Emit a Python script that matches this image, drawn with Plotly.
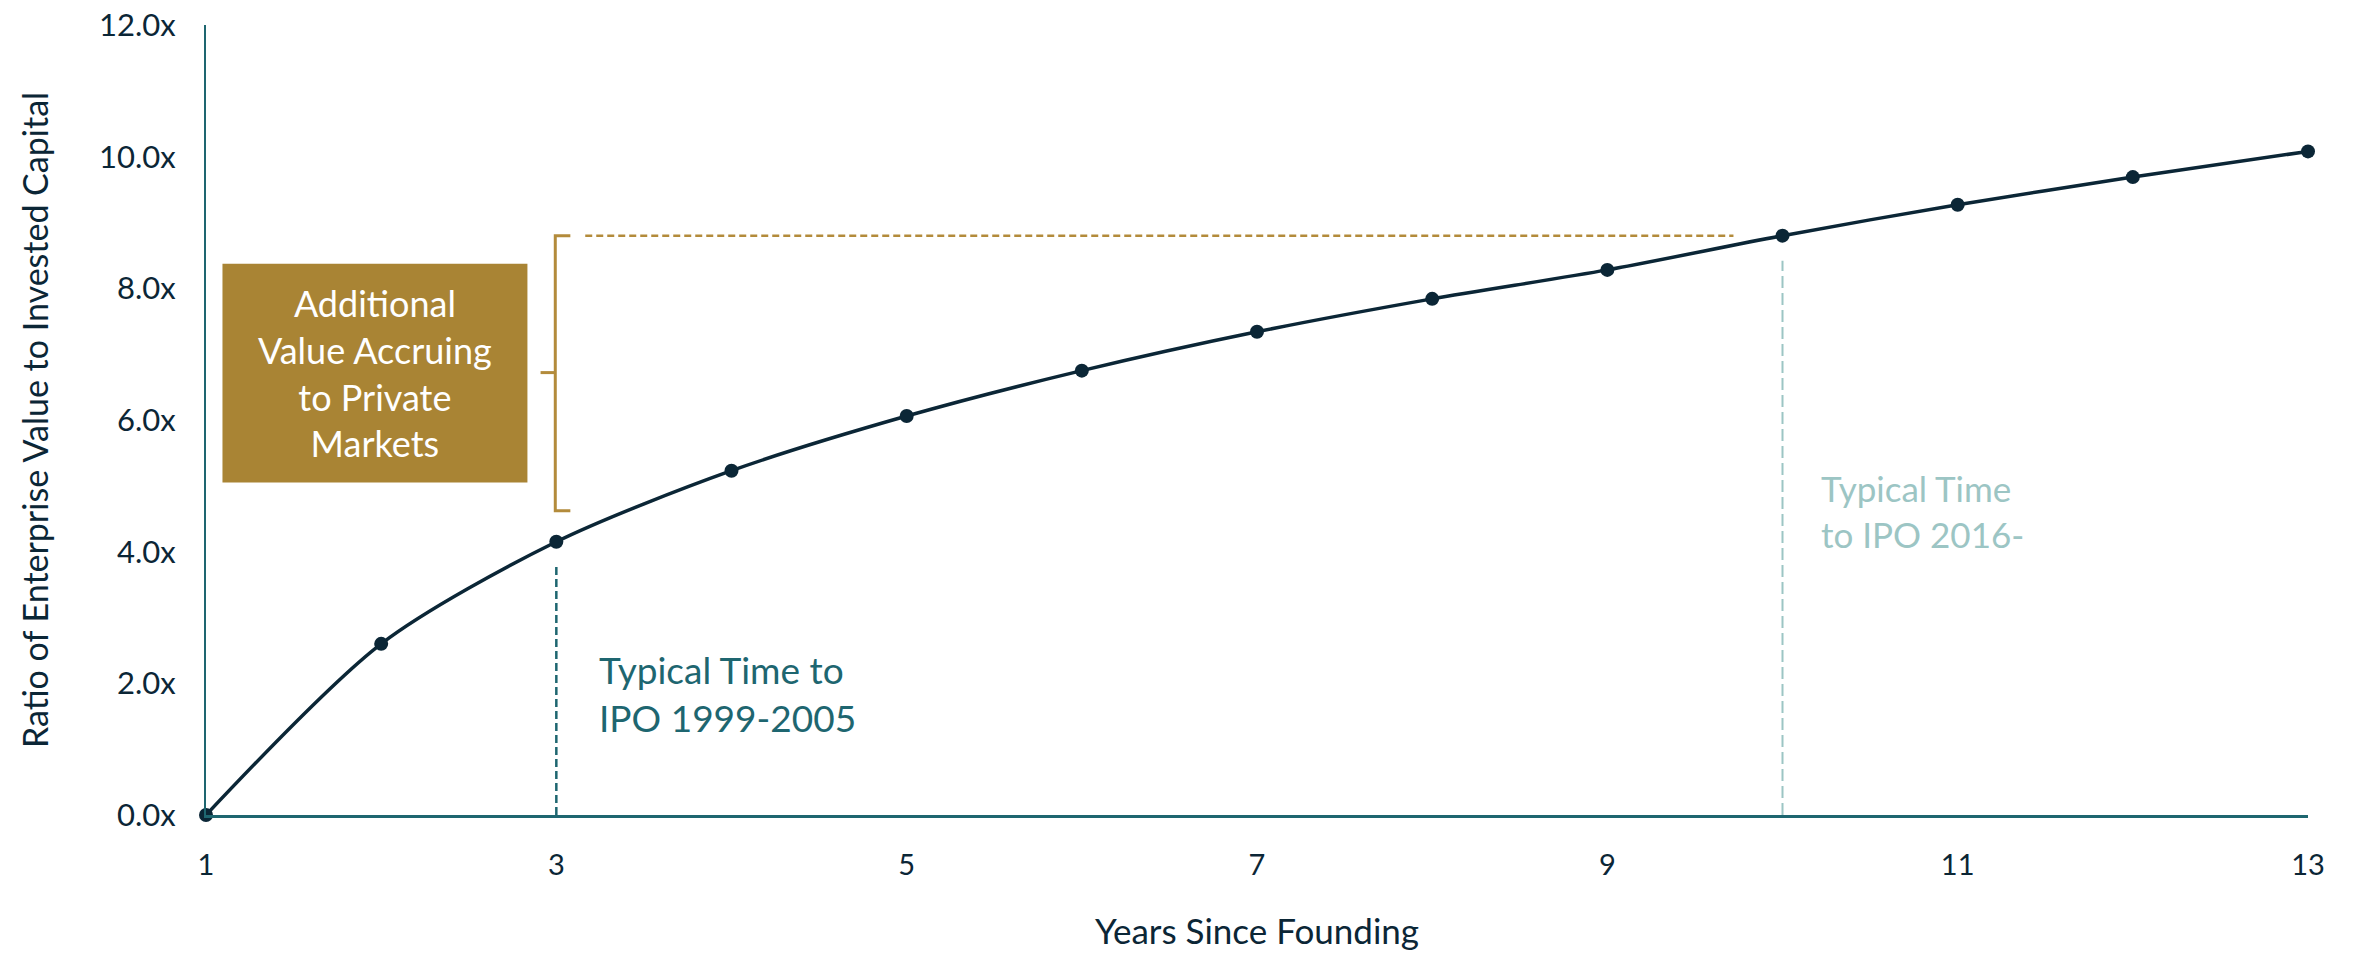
import plotly.graph_objects as go

years = [1, 2, 3, 4, 5, 6, 7, 8, 9, 10, 11, 12, 13]
ev_ratio = [0.0, 2.6, 4.15, 5.23, 6.06, 6.75, 7.34, 7.84, 8.28, 8.80, 9.27, 9.69, 10.08]
x_ticks = [1, 3, 5, 7, 9, 11, 13]
y_ticks = [0, 2, 4, 6, 8, 10, 12]
y_tick_text = ["0.0x", "2.0x", "4.0x", "6.0x", "8.0x", "10.0x", "12.0x"]

NAVY = "#0b2636"
TEAL = "#1e6670"
LIGHT_TEAL = "#9cc5c4"
GOLD = "#a98434"
GOLD_LINE = "#b38b3b"
FONT = "Lato"

ipo_early = 3
ipo_late = 10
ipo_late_val = ev_ratio[years.index(ipo_late)]

fig = go.Figure()

fig.add_trace(go.Scatter(
    x=years, y=ev_ratio, mode="lines+markers",
    line=dict(color=NAVY, width=3.5, shape="spline", smoothing=0.8),
    marker=dict(color=NAVY, size=14),
    cliponaxis=False, showlegend=False, hoverinfo="skip",
))

# vertical dashed guides
fig.add_shape(type="line", xref="x", yref="y", x0=ipo_early, x1=ipo_early,
              y0=0, y1=3.78, line=dict(color=TEAL, width=2.5, dash="8px,4px"))
fig.add_shape(type="line", xref="x", yref="y", x0=ipo_late, x1=ipo_late,
              y0=0, y1=8.42, line=dict(color=LIGHT_TEAL, width=2, dash="12px,5px"))

# gold horizontal dashed line
fig.add_shape(type="line", xref="x", yref="y", x0=3.165, x1=9.72,
              y0=ipo_late_val, y1=ipo_late_val,
              line=dict(color=GOLD_LINE, width=2.5, dash="7px,4px"))

# bracket
bx, bl, br = 2.994, 2.91, 3.08
ytop, ybot, ymid = ipo_late_val, 4.62, 6.72
fig.add_shape(type="path", xref="x", yref="y",
              path=f"M {br},{ytop} L {bx},{ytop} L {bx},{ybot} L {br},{ybot}",
              line=dict(color=GOLD_LINE, width=3))
fig.add_shape(type="line", xref="x", yref="y", x0=bl, x1=bx, y0=ymid, y1=ymid,
              line=dict(color=GOLD_LINE, width=3))

# gold box
fig.add_shape(type="rect", xref="x", yref="y", x0=1.094, x1=2.835, y0=5.05, y1=8.375,
              fillcolor=GOLD, line=dict(width=0), layer="above")
fig.add_annotation(x=(1.094 + 2.835) / 2, y=(5.05 + 8.375) / 2, xref="x", yref="y",
                   text="Additional<br>Value Accruing<br>to Private<br>Markets",
                   showarrow=False, align="center",
                   font=dict(family=FONT, size=36, color="white"))

fig.add_annotation(x=3.23, y=1.85, xref="x", yref="y", xanchor="left", yanchor="middle",
                   text="Typical Time to<br>IPO 1999-2005", showarrow=False, align="left",
                   font=dict(family=FONT, size=37, color=TEAL))
fig.add_annotation(x=10.21, y=4.62, xref="x", yref="y", xanchor="left", yanchor="middle",
                   text="Typical Time<br>to IPO 2016-", showarrow=False, align="left",
                   font=dict(family=FONT, size=35, color=LIGHT_TEAL))

fig.update_layout(
    width=2353, height=953,
    margin=dict(l=206, r=45, t=25, b=138),
    plot_bgcolor="white", paper_bgcolor="white",
    font=dict(family=FONT, color=NAVY),
    xaxis=dict(range=[1, 13], tickvals=x_ticks, ticktext=[str(t) for t in x_ticks],
               automargin=False,
               showgrid=False, zeroline=False, showline=True, linecolor=TEAL, linewidth=2.5,
               ticks="", tickfont=dict(size=29, color=NAVY), ticklabelstandoff=22,
               title=dict(text="Years Since Founding", font=dict(size=35, color=NAVY), standoff=40)),
    yaxis=dict(range=[0, 12], tickvals=y_ticks, ticktext=y_tick_text,
               automargin=False,
               showgrid=False, zeroline=False, showline=True, linecolor=TEAL, linewidth=2,
               ticks="", tickfont=dict(size=31, color=NAVY), ticklabelstandoff=22,
               title=dict(text="Ratio of Enterprise Value to Invested Capital",
                          font=dict(size=34, color=NAVY), standoff=40)),
)

fig.write_html("out.html")
